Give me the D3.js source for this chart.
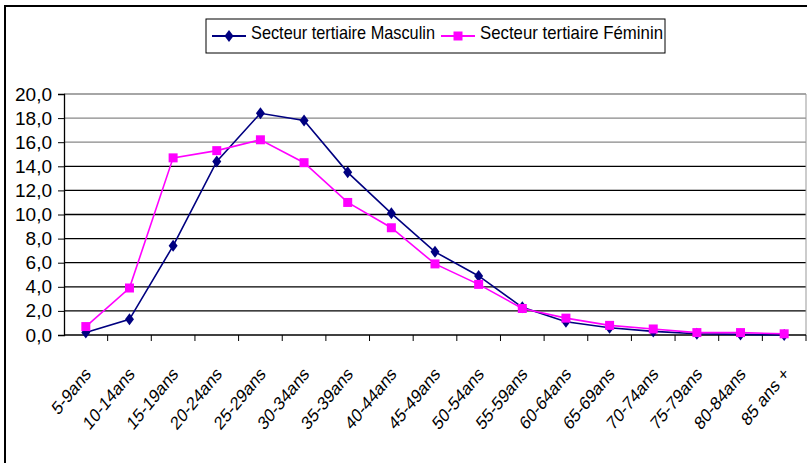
<!DOCTYPE html>
<html>
<head>
<meta charset="utf-8">
<script src="https://cdn.jsdelivr.net/npm/d3@7.9.0/dist/d3.min.js"></script>
<style>
  body { margin: 0; background: #fff; }
  svg { font-family: "Liberation Sans Narrow", "Arial Narrow", "Liberation Sans", Arial, sans-serif; }
</style>
</head>
<body>
<svg id="chart" width="807" height="463"></svg>
<script>
// age groups and shares (%)
const ageGroups = ['5-9ans', '10-14ans', '15-19ans', '20-24ans', '25-29ans', '30-34ans',
                   '35-39ans', '40-44ans', '45-49ans', '50-54ans', '55-59ans', '60-64ans',
                   '65-69ans', '70-74ans', '75-79ans', '80-84ans', '85 ans +'];
const masculin = [0.2, 1.3, 7.4, 14.4, 18.4, 17.8, 13.5, 10.1, 6.9, 4.9, 2.3, 1.1, 0.6, 0.3, 0.1, 0.05, 0.0];
const feminin  = [0.7, 3.9, 14.7, 15.3, 16.2, 14.3, 11.0, 8.9, 5.9, 4.2, 2.2, 1.4, 0.8, 0.5, 0.2, 0.2, 0.1];
const yTicks   = [0, 2, 4, 6, 8, 10, 12, 14, 16, 18, 20];

const series = [
  { name: 'Secteur tertiaire Masculin', values: masculin, color: '#000080', marker: 'diamond' },
  { name: 'Secteur tertiaire Féminin',  values: feminin,  color: '#FF00FF', marker: 'square' }
];

const svg = d3.select('#chart');
const plot = { left: 64, right: 806, top: 94, bottom: 335 };

// outer frame
svg.append('rect')
   .attr('x', 5).attr('y', 6).attr('width', 810).attr('height', 470)
   .attr('fill', 'none').attr('stroke', '#000').attr('stroke-width', 2);

const x = d3.scaleBand().domain(ageGroups).range([plot.left, plot.right]);
const y = d3.scaleLinear().domain([0, 20]).range([plot.bottom, plot.top]);

// gridlines
svg.append('g')
   .selectAll('line')
   .data(yTicks.filter(t => t > 0))
   .join('line')
   .attr('x1', plot.left).attr('x2', plot.right)
   .attr('y1', d => y(d)).attr('y2', d => y(d))
   .attr('stroke', d => d >= 16 ? '#888' : '#000')
   .attr('stroke-width', 1.3);

// right border of plot area
svg.append('line')
   .attr('x1', plot.right).attr('x2', plot.right)
   .attr('y1', plot.top).attr('y2', plot.bottom)
   .attr('stroke', '#999');

// y axis
const yAxis = svg.append('g')
   .attr('transform', `translate(${plot.left},0)`)
   .call(d3.axisLeft(y).tickValues(yTicks).tickSize(6).tickPadding(6)
          .tickFormat(d => d3.format('.1f')(d).replace('.', ',')));
yAxis.select('.domain').attr('stroke', '#000').attr('stroke-width', 1.3);
yAxis.selectAll('.tick line').attr('stroke', '#000');
yAxis.selectAll('text').attr('font-size', 19).attr('fill', '#000')
     .attr('font-family', null);

// x axis with ticks between categories
const xAxis = svg.append('g').attr('transform', `translate(0,${plot.bottom})`);
xAxis.append('line')
   .attr('x1', plot.left).attr('x2', plot.right)
   .attr('stroke', '#000').attr('stroke-width', 1.3);
xAxis.selectAll('line.tk')
   .data(ageGroups)
   .join('line')
   .attr('class', 'tk')
   .attr('x1', d => x(d) + x.bandwidth()).attr('x2', d => x(d) + x.bandwidth())
   .attr('y1', 0).attr('y2', 6)
   .attr('stroke', '#000');
// labels look horizontally squeezed in the original, hence the scale
xAxis.selectAll('text')
   .data(ageGroups)
   .join('text')
   .attr('transform', d => `translate(${x(d) + x.bandwidth() / 2 + 6},${40}) scale(0.82,1) rotate(-45)`)
   .attr('text-anchor', 'end')
   .attr('font-family', '"Liberation Sans", Arial, sans-serif')
   .attr('font-size', 19)
   .text(d => d);

// lines and markers
const line = d3.line()
   .x((d, i) => x(ageGroups[i]) + x.bandwidth() / 2)
   .y(d => y(d));

const diamond = 'M0,-6L4.5,0L0,6L-4.5,0Z';
const square  = 'M-4.5,-4.5H4.5V4.5H-4.5Z';

series.forEach(s => {
  svg.append('path')
     .datum(s.values)
     .attr('d', line)
     .attr('fill', 'none')
     .attr('stroke', s.color)
     .attr('stroke-width', 1.6);

  svg.append('g')
     .selectAll('path')
     .data(s.values)
     .join('path')
     .attr('transform', (d, i) => `translate(${x(ageGroups[i]) + x.bandwidth() / 2},${y(d)})`)
     .attr('d', s.marker === 'diamond' ? diamond : square)
     .attr('fill', s.color);
});

// legend
const legend = svg.append('g');
legend.append('rect')
   .attr('x', 206).attr('y', 19).attr('width', 459).attr('height', 34)
   .attr('fill', '#fff').attr('stroke', '#000').attr('stroke-width', 1);

const legendX = [212, 441];
series.forEach((s, i) => {
  const g = legend.append('g').attr('transform', `translate(${legendX[i]},36)`);
  g.append('line').attr('x1', 0).attr('x2', 34).attr('stroke', s.color).attr('stroke-width', 2);
  g.append('path').attr('transform', 'translate(17,0)')
   .attr('d', s.marker === 'diamond' ? diamond : square).attr('fill', s.color);
  g.append('text').attr('x', 39).attr('y', 3)
   .attr('font-size', 19).attr('textLength', i === 0 ? 184 : 183)
   .attr('lengthAdjust', 'spacingAndGlyphs')
   .text(s.name);
});
</script>
</body>
</html>
